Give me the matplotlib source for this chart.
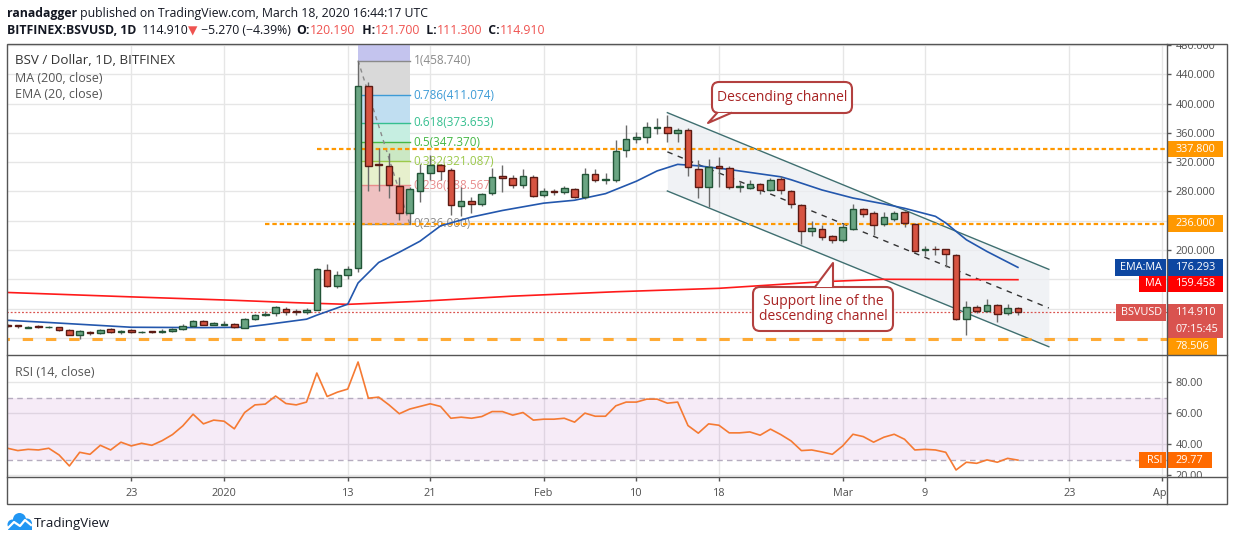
import numpy as np
import pandas as pd
import matplotlib
matplotlib.use("Agg")
import matplotlib.pyplot as plt
from matplotlib.patches import Rectangle, FancyBboxPatch, Polygon, Circle
from matplotlib.lines import Line2D
from matplotlib.transforms import Affine2D, Bbox, TransformedBbox

plt.rcParams["font.family"] = ["Open Sans", "DejaVu Sans"]

# ---- data ----
START = "2019-12-11"
END = "2020-03-18"
opens = [97.5, 97.2, 94.2, 95.5, 94.6, 94.4, 91.1, 83.5, 88.0, 86.2,
         92.0, 87.6, 90.7, 87.6, 88.5, 87.8, 88.9, 91.7, 95.7, 102.6,
         98.1, 98.5, 99.1, 93.9, 105.3, 111.2, 113.5, 119.4, 116.2, 114.9,
         118.5, 172.3, 151.2, 166.3, 175.0, 424.0, 317.0, 314.3, 287.4, 251.0,
         281.0, 304.8, 315.7, 309.3, 259.7, 266.5, 262.8, 277.5, 301.0, 298.8,
         288.4, 299.7, 274.7, 280.1, 279.6, 282.9, 272.4, 303.4, 295.6, 295.6,
         336.6, 351.2, 354.0, 367.4, 367.6, 359.4, 363.5, 310.2, 285.6, 314.3,
         311.6, 286.5, 285.0, 289.7, 281.5, 296.6, 280.6, 261.0, 225.5, 228.3,
         219.1, 213.2, 229.1, 256.0, 250.1, 235.1, 242.8, 251.5, 235.5, 199.6,
         201.6, 201.0, 192.8, 106.2, 122.5, 117.0, 124.5, 113.5, 120.19]
highs = [99.0, 98.0, 96.0, 97.0, 96.5, 95.5, 91.5, 90.5, 89.5, 92.0,
         93.3, 90.5, 91.5, 89.0, 90.0, 91.5, 93.0, 98.5, 104.0, 104.0,
         101.5, 103.5, 100.0, 107.0, 112.5, 117.0, 124.0, 121.5, 119.0, 120.5,
         176.0, 181.0, 171.0, 178.0, 458.74, 429.0, 339.0, 332.0, 300.0, 286.0,
         318.0, 329.8, 318.0, 312.0, 286.5, 272.0, 278.0, 311.6, 316.0, 302.0,
         310.0, 302.0, 284.5, 283.0, 287.0, 285.0, 312.5, 310.0, 305.0, 350.0,
         370.8, 361.7, 375.3, 380.0, 384.4, 366.0, 366.0, 323.0, 323.9, 327.5,
         314.7, 294.0, 296.0, 291.0, 298.0, 301.0, 282.0, 263.0, 240.0, 234.0,
         221.0, 236.0, 262.8, 258.0, 253.0, 252.3, 253.0, 253.0, 237.0, 205.0,
         206.0, 202.0, 195.0, 130.8, 125.5, 132.6, 126.0, 126.0, 121.7]
lows = [95.0, 93.5, 93.0, 93.5, 94.0, 89.5, 83.5, 78.506, 84.0, 85.0,
        87.0, 85.5, 87.0, 87.0, 86.5, 86.2, 88.0, 91.0, 95.0, 97.0,
        97.0, 98.0, 94.0, 93.5, 104.5, 110.5, 110.5, 111.5, 111.0, 112.5,
        117.5, 150.0, 148.5, 161.0, 170.0, 281.0, 281.0, 270.6, 241.0, 236.0,
        266.0, 295.6, 296.0, 247.8, 246.0, 251.0, 260.0, 274.7, 279.6, 285.0,
        285.0, 272.0, 272.0, 275.0, 277.0, 270.5, 270.0, 293.0, 290.0, 293.0,
        327.5, 346.0, 345.7, 359.0, 348.0, 348.0, 301.5, 270.6, 259.0, 285.6,
        284.0, 279.0, 283.0, 277.0, 280.0, 276.0, 257.0, 208.2, 219.0, 214.0,
        210.0, 211.0, 227.0, 245.0, 220.0, 233.0, 240.0, 231.0, 197.0, 192.0,
        193.0, 177.0, 104.0, 83.9, 114.0, 115.0, 101.2, 111.0, 111.3]
closes = [96.2, 96.0, 94.8, 95.0, 95.2, 90.3, 84.3, 89.4, 86.2, 90.7,
          88.4, 89.6, 87.6, 88.3, 88.2, 88.6, 91.7, 96.2, 103.0, 98.1,
          100.3, 99.0, 94.4, 105.7, 111.2, 112.6, 122.5, 115.3, 114.9, 117.6,
          173.6, 151.2, 165.8, 173.6, 424.0, 315.2, 316.0, 288.4, 250.1, 283.0,
          304.8, 315.7, 307.5, 261.0, 266.5, 262.8, 276.1, 299.3, 298.0, 288.4,
          301.0, 273.8, 280.6, 279.6, 284.7, 272.4, 303.4, 295.6, 297.0, 335.7,
          351.6, 354.4, 367.6, 367.8, 359.4, 363.5, 313.0, 285.6, 313.0, 312.0,
          286.5, 288.0, 289.7, 281.5, 295.6, 281.5, 262.4, 226.4, 230.0, 218.2,
          213.2, 231.4, 256.0, 248.8, 233.7, 244.7, 250.1, 236.5, 199.0, 201.0,
          201.2, 194.5, 106.2, 122.5, 117.0, 124.5, 113.0, 121.2, 114.91]
rsi = [37.4, 35.9, 36.7, 36.3, 37.4, 33.1, 26.0, 34.8, 33.5, 39.3,
       36.3, 41.3, 38.9, 40.6, 39.3, 42.3, 46.2, 51.8, 59.3, 53.1,
       55.5, 54.8, 49.9, 60.4, 65.3, 65.8, 71.0, 66.2, 65.3, 67.1,
       85.8, 70.7, 73.5, 75.5, 92.9, 69.6, 70.3, 65.3, 59.6, 62.6,
       64.3, 66.0, 64.3, 56.7, 57.4, 56.7, 57.8, 61.0, 61.0, 58.7,
       60.4, 55.5, 56.1, 56.1, 56.7, 54.2, 60.0, 58.0, 58.0, 64.7,
       67.1, 67.1, 69.0, 69.0, 66.4, 67.1, 52.0, 47.1, 53.1, 52.2,
       47.3, 47.3, 47.9, 45.8, 49.7, 46.2, 42.1, 35.9, 36.3, 35.0,
       33.5, 38.9, 46.4, 44.9, 41.3, 44.5, 46.4, 43.2, 36.3, 36.7,
       36.3, 34.8, 23.4, 28.4, 27.7, 29.9, 28.4, 30.9, 29.77]

ema_dates = ["2019-12-11", "2019-12-15", "2019-12-23", "2019-12-30", "2020-01-03",
             "2020-01-05", "2020-01-09", "2020-01-10", "2020-01-13", "2020-01-14",
             "2020-01-16", "2020-01-18", "2020-01-20", "2020-01-22", "2020-01-25",
             "2020-01-28", "2020-02-01", "2020-02-04", "2020-02-07", "2020-02-10",
             "2020-02-12", "2020-02-14", "2020-02-16", "2020-02-19", "2020-02-24",
             "2020-02-25", "2020-02-28", "2020-03-02", "2020-03-05", "2020-03-07",
             "2020-03-10", "2020-03-11", "2020-03-13", "2020-03-15", "2020-03-18"]
ema_vals = [104, 101, 94.5, 94, 94.5, 98, 105.5, 111, 126, 155,
            183, 197, 212, 233, 245, 254, 264, 268, 277, 294,
            308, 317, 315, 310, 300, 296, 282, 271, 263, 257,
            246, 237, 214, 198, 176.293]
ma_dates = ["2019-12-11", "2019-12-23", "2020-01-02", "2020-01-08", "2020-01-13",
            "2020-01-20", "2020-01-29", "2020-02-08", "2020-02-18", "2020-02-28",
            "2020-03-05", "2020-03-18"]
ma_vals = [142, 136, 131.3, 128, 125.8, 130, 137, 143, 147.7, 156.7, 160, 159.458]

fib_ratios = ["1", "0.786", "0.618", "0.5", "0.382", "0.236", "0"]
fib_vals = [458.740, 411.074, 373.653, 347.370, 321.087, 288.567, 236.000]
fib_line_colors = ["#8a8a8a", "#3d9bd6", "#35bf8f", "#45b845", "#9cc94b", "#e88c8c", "#8a8a8a"]
fib_fill_colors = ["#d9d9d9", "#c0def1", "#c6eee1", "#cbe8c4", "#e7f0cd", "#efc1c1"]

channel_dates = ["2020-02-13", "2020-03-21"]
channel_top = [387.6, 173.6]
channel_bot = [280.6, 67.9]

tick_dates = ["2019-12-23", "2020-01-01", "2020-01-13", "2020-01-21", "2020-02-01",
              "2020-02-10", "2020-02-18", "2020-03-01", "2020-03-09", "2020-03-23", "2020-04-01"]
tick_labels = ["23", "2020", "13", "21", "Feb", "10", "18", "Mar", "9", "23", "Apr"]
price_ticks = [80, 120, 160, 200, 240, 280, 320, 360, 400, 440, 480]
hidden_price_ticks = [80, 120, 160, 240]  # covered by the value tags

LAST = 114.910
EMA_LAST = 176.293
MA_LAST = 159.458
RSI_LAST = 29.77

BASE = pd.Timestamp("2020-01-01")


def days(d):
    return (pd.to_datetime(d) - BASE).days


W, H = 1234, 541
fig = plt.figure(figsize=(W / 100, H / 100), dpi=100)
px = Affine2D().scale(1, -1).translate(0, H)  # pixel coords, origin top-left


def rect(x0, y0, x1, y1):
    return [x0 / W, 1 - y1 / H, (x1 - x0) / W, (y1 - y0) / H]


ax = fig.add_axes(rect(7, 44, 1167, 355))
axr = fig.add_axes(rect(7, 355, 1167, 477))

x = np.array(days(pd.date_range(START, END, freq="D")))
xlim = (-21.05, 91.46)
grid_c = "#e6e6e6"
txt_c = "#4f4f4f"

for a in (ax, axr):
    a.set_xlim(*xlim)
    for s in a.spines.values():
        s.set_visible(False)
    a.set_xticks(days(tick_dates))
    a.grid(True, color=grid_c, lw=1, zorder=0)
    a.set_axisbelow(True)
    a.yaxis.tick_right()
    a.tick_params(axis="y", length=3, width=1, color="#555555", pad=3,
                  labelsize=7.8, labelcolor=txt_c)

ax.set_ylim(56.6, 481.4)
ax.set_yticks(price_ticks)
ax.set_yticklabels(["" if v in hidden_price_ticks else f"{v:.3f}" for v in price_ticks])
ax.tick_params(axis="x", length=0, labelbottom=False)

axr.set_ylim(18.9, 97.4)
axr.set_yticks([20, 40, 60, 80])
axr.set_yticklabels(["20.00", "40.00", "60.00", "80.00"])
axr.set_xticklabels(tick_labels)
axr.tick_params(axis="x", length=3, width=1, color="#555555", pad=5,
                labelsize=7.8, labelcolor=txt_c)

# clip axis labels to their panels
clip_p = TransformedBbox(Bbox([[1167 / W, 1 - 355 / H], [1227 / W, 1 - 44 / H]]), fig.transFigure)
clip_r = TransformedBbox(Bbox([[1167 / W, 1 - 477 / H], [1227 / W, 1 - 355 / H]]), fig.transFigure)
clip_x = TransformedBbox(Bbox([[7 / W, 1 - 504 / H], [1167 / W, 1 - 477 / H]]), fig.transFigure)
for lab in ax.get_yticklabels():
    lab.set_clip_box(clip_p)
    lab.set_clip_on(True)
for lab in axr.get_yticklabels():
    lab.set_clip_box(clip_r)
    lab.set_clip_on(True)
for lab in axr.get_xticklabels():
    lab.set_clip_box(clip_x)
    lab.set_clip_on(True)

# ---- fibonacci retracement ----
fx0, fx1 = days("2020-01-14"), days("2020-01-19")
ax.fill_between([fx0, fx1], fib_vals[0], 600, color="#c4c4ee", lw=0, zorder=1)
for i in range(len(fib_vals) - 1):
    ax.fill_between([fx0, fx1], fib_vals[i + 1], fib_vals[i], color=fib_fill_colors[i], lw=0, zorder=1)
for r, v, c in zip(fib_ratios, fib_vals, fib_line_colors):
    ax.plot([fx0, fx1], [v, v], color=c, lw=1, zorder=1.5)
    ax.annotate(f"{r}({v:.3f})", xy=(fx1, v), xytext=(3, 0), textcoords="offset points",
                va="center", ha="left", fontsize=8.5, color=c, zorder=1.6)
ax.plot([fx0, fx1], [fib_vals[0], fib_vals[-1]], color="#8a8a8a", lw=1, ls=(0, (3, 3)), zorder=1.6)

# ---- descending channel ----
cx = days(channel_dates)
ax.fill_between(cx, channel_bot, channel_top, color="#eceef2", alpha=0.75, lw=0, zorder=1)
ax.plot(cx, channel_top, color="#3f6f70", lw=1, zorder=2)
ax.plot(cx, channel_bot, color="#3f6f70", lw=1, zorder=2)
ax.plot(cx, [(a + b) / 2 for a, b in zip(channel_top, channel_bot)], color="#333333",
        lw=1, ls=(0, (4, 4)), zorder=2)

# ---- horizontal levels ----
ax.plot([days("2020-01-10"), 200], [337.8, 337.8], color="#ff9800", lw=1.6, ls=(0, (2, 1.3)), zorder=3)
ax.plot([days("2020-01-05"), 200], [236.0, 236.0], color="#ff9800", lw=1.6, ls=(0, (2, 1.3)), zorder=3)
ax.plot([-40, 200], [78.506, 78.506], color="#ffa21f", lw=2.2, ls=(0, (3.4, 4.2)), zorder=3,
        alpha=0.9)
ax.plot([-40, 200], [LAST, LAST], color="#d9534f", lw=0.9, ls=(0, (1.5, 1.5)), zorder=3)

# ---- moving averages ----
ax.plot(days(ma_dates), ma_vals, color="#ff1a1a", lw=1.2, zorder=3.2)
ax.plot(days(ema_dates), ema_vals, color="#2357ad", lw=1.2, zorder=3.2)

# ---- candles ----
o = np.array(opens)
c = np.array(closes)
up = c >= o
lo = np.minimum(o, c)
hgt = np.abs(c - o)
small = hgt < 1.2
lo = np.where(small, (o + c) / 2 - 0.6, lo)
hgt = np.where(small, 1.2, hgt)
ax.vlines(x, lows, highs, color="#6b6b6b", lw=1, zorder=4)
ax.bar(x, hgt, bottom=lo, width=0.64,
       color=["#6ba583" if u else "#d75442" for u in up],
       edgecolor=["#225437" if u else "#5b1a13" for u in up], lw=1, zorder=5)

# ---- RSI ----
axr.axhspan(30, 70, color="#9c27b0", alpha=0.09, lw=0, zorder=1)
for lv in (30, 70):
    axr.axhline(lv, color="#b5acbf", lw=1, ls=(0, (4, 3)), zorder=1.5)
axr.plot(x, rsi, color="#f57a33", lw=1.2, zorder=3)

# ---- legends ----
ax.text(8 / 1160, 1 - 17 / 311, "BSV / Dollar, 1D, BITFINEX", transform=ax.transAxes,
        fontsize=9.6, color="#333333", va="center", ha="left")
ax.text(8 / 1160, 1 - 35 / 311, "MA (200, close)", transform=ax.transAxes,
        fontsize=9, color="#555555", va="center", ha="left")
ax.text(8 / 1160, 1 - 51 / 311, "EMA (20, close)", transform=ax.transAxes,
        fontsize=9, color="#555555", va="center", ha="left")
axr.text(8 / 1160, 1 - 18 / 122, "RSI (14, close)", transform=axr.transAxes,
         fontsize=9, color="#555555", va="center", ha="left")

# ---- callouts (pixel coordinates) ----
red_c = "#b3403f"


def callout(x0, y0, x1, y1, base, tip, lines):
    fig.add_artist(FancyBboxPatch((x0, y0), x1 - x0, y1 - y0, boxstyle="round,pad=0,rounding_size=7",
                                  transform=px, fc="white", ec=red_c, lw=1.5, zorder=6))
    by = base[2]
    fig.add_artist(Polygon([(base[0], by), tip, (base[1], by)], closed=True, transform=px,
                           fc="white", ec="none", zorder=6.1))
    fig.add_artist(Line2D([base[0], tip[0], base[1]], [by, tip[1], by], transform=px,
                          color=red_c, lw=1.5, zorder=6.2))
    fig.text((x0 + x1) / 2, (y0 + y1) / 2, lines, transform=px, ha="center", va="center",
             fontsize=10, color="#a82424", linespacing=0.95, zorder=6.3)


callout(712, 82, 852, 113, (717, 731, 113), (708, 123), "Descending channel")
callout(753, 287, 893, 331, (815, 833, 287), (833, 263), "Support line of the\ndescending channel")

# ---- right axis tags ----


def ypix(a, v):
    return H - a.transData.transform((0, v))[1]


def tag(yc, text, color, x0=1167, x1=1223, h=16.5, left=False):
    fig.add_artist(Rectangle((x0, yc - h / 2), x1 - x0, h, transform=px, fc=color, ec="none", zorder=8))
    if left:
        fig.text(x1 - 4, yc, text, transform=px, ha="right", va="center", fontsize=7.8,
                 color="white", zorder=9)
    else:
        fig.text(x0 + 9, yc, text, transform=px, ha="left", va="center", fontsize=7.8,
                 color="white", zorder=9)


tag(ypix(ax, 337.8), "337.800", "#ff9800")
tag(ypix(ax, 236.0), "236.000", "#ff9800")
y_ema = ypix(ax, EMA_LAST)
tag(y_ema, f"{EMA_LAST:.3f}", "#0d47a1")
tag(y_ema, "EMA:MA", "#0d47a1", x0=1115, x1=1166, left=True)
y_ma = max(ypix(ax, MA_LAST), y_ema + 16.5)
tag(y_ma, f"{MA_LAST:.3f}", "#ff0000")
tag(y_ma, "MA", "#ff0000", x0=1139, x1=1166, left=True)
y_last = ypix(ax, LAST)
tag(y_last, f"{LAST:.3f}", "#d9534f")
tag(y_last, "BSVUSD", "#d9534f", x0=1116, x1=1166, left=True)
tag(y_last + 17.3, "07:15:45", "#d9534f")
tag(max(ypix(ax, 78.506), y_last + 34), "78.506", "#ff9800", x1=1217)
y_rsi = ypix(axr, RSI_LAST)
tag(y_rsi, f"{RSI_LAST:.2f}", "#ff6a00", x1=1212)
tag(y_rsi, "RSI", "#ff6a00", x0=1139, x1=1166, left=True)

# ---- frame ----
frame_c = "#555555"
fig.add_artist(Rectangle((7, 44), 1220, 460, transform=px, fill=False, ec=frame_c, lw=1, zorder=10))
for seg in ([(1167, 1167), (44, 504)], [(7, 1227), (355, 355)], [(7, 1227), (477, 477)]):
    fig.add_artist(Line2D(seg[0], seg[1], transform=px, color=frame_c, lw=1, zorder=10))

# ---- header ----
renderer = fig.canvas.get_renderer()


def run_text(xp, yp, parts, size=8.8):
    for s, col, wt in parts:
        t = fig.text(xp, yp, s, transform=px, fontsize=size, color=col, fontweight=wt,
                     va="center", ha="left")
        xp += t.get_window_extent(renderer=renderer).width


dark = "#131722"
red = "#ef5350"
run_text(7, 13, [("ranadagger", dark, "bold"),
                 (" published on TradingView.com, March 18, 2020 16:44:17 UTC", dark, "normal")])
run_text(7, 31, [("BITFINEX:BSVUSD, 1D", dark, "bold"), ("  114.910", dark, "normal"),
                 ("▼", red, "normal"), (" −5.270 (−4.39%)  ", dark, "normal"),
                 ("O:", dark, "bold"), ("120.190", red, "normal"),
                 ("  H:", dark, "bold"), ("121.700", red, "normal"),
                 ("  L:", dark, "bold"), ("111.300", red, "normal"),
                 ("  C:", dark, "bold"), ("114.910", red, "normal")])

# ---- TradingView logo ----
blue = "#2196f3"
for cx_, cy_, r_ in [(12.5, 524.5, 5.0), (19.5, 519.5, 6.5), (27.0, 523.5, 5.0)]:
    fig.add_artist(Circle((cx_, cy_), r_, transform=px, fc=blue, ec="none", zorder=10))
fig.add_artist(Rectangle((7.5, 523.5), 24.5, 6, transform=px, fc=blue, ec="none", zorder=10))
fig.add_artist(Line2D([8, 14, 20, 25, 31], [528, 522, 526, 520, 525], transform=px,
                      color="white", lw=1.6, zorder=11))
fig.text(34, 523, "TradingView", transform=px, fontsize=9.5, color=dark, va="center", ha="left")

fig.savefig("out.png", dpi=100, facecolor="white")
